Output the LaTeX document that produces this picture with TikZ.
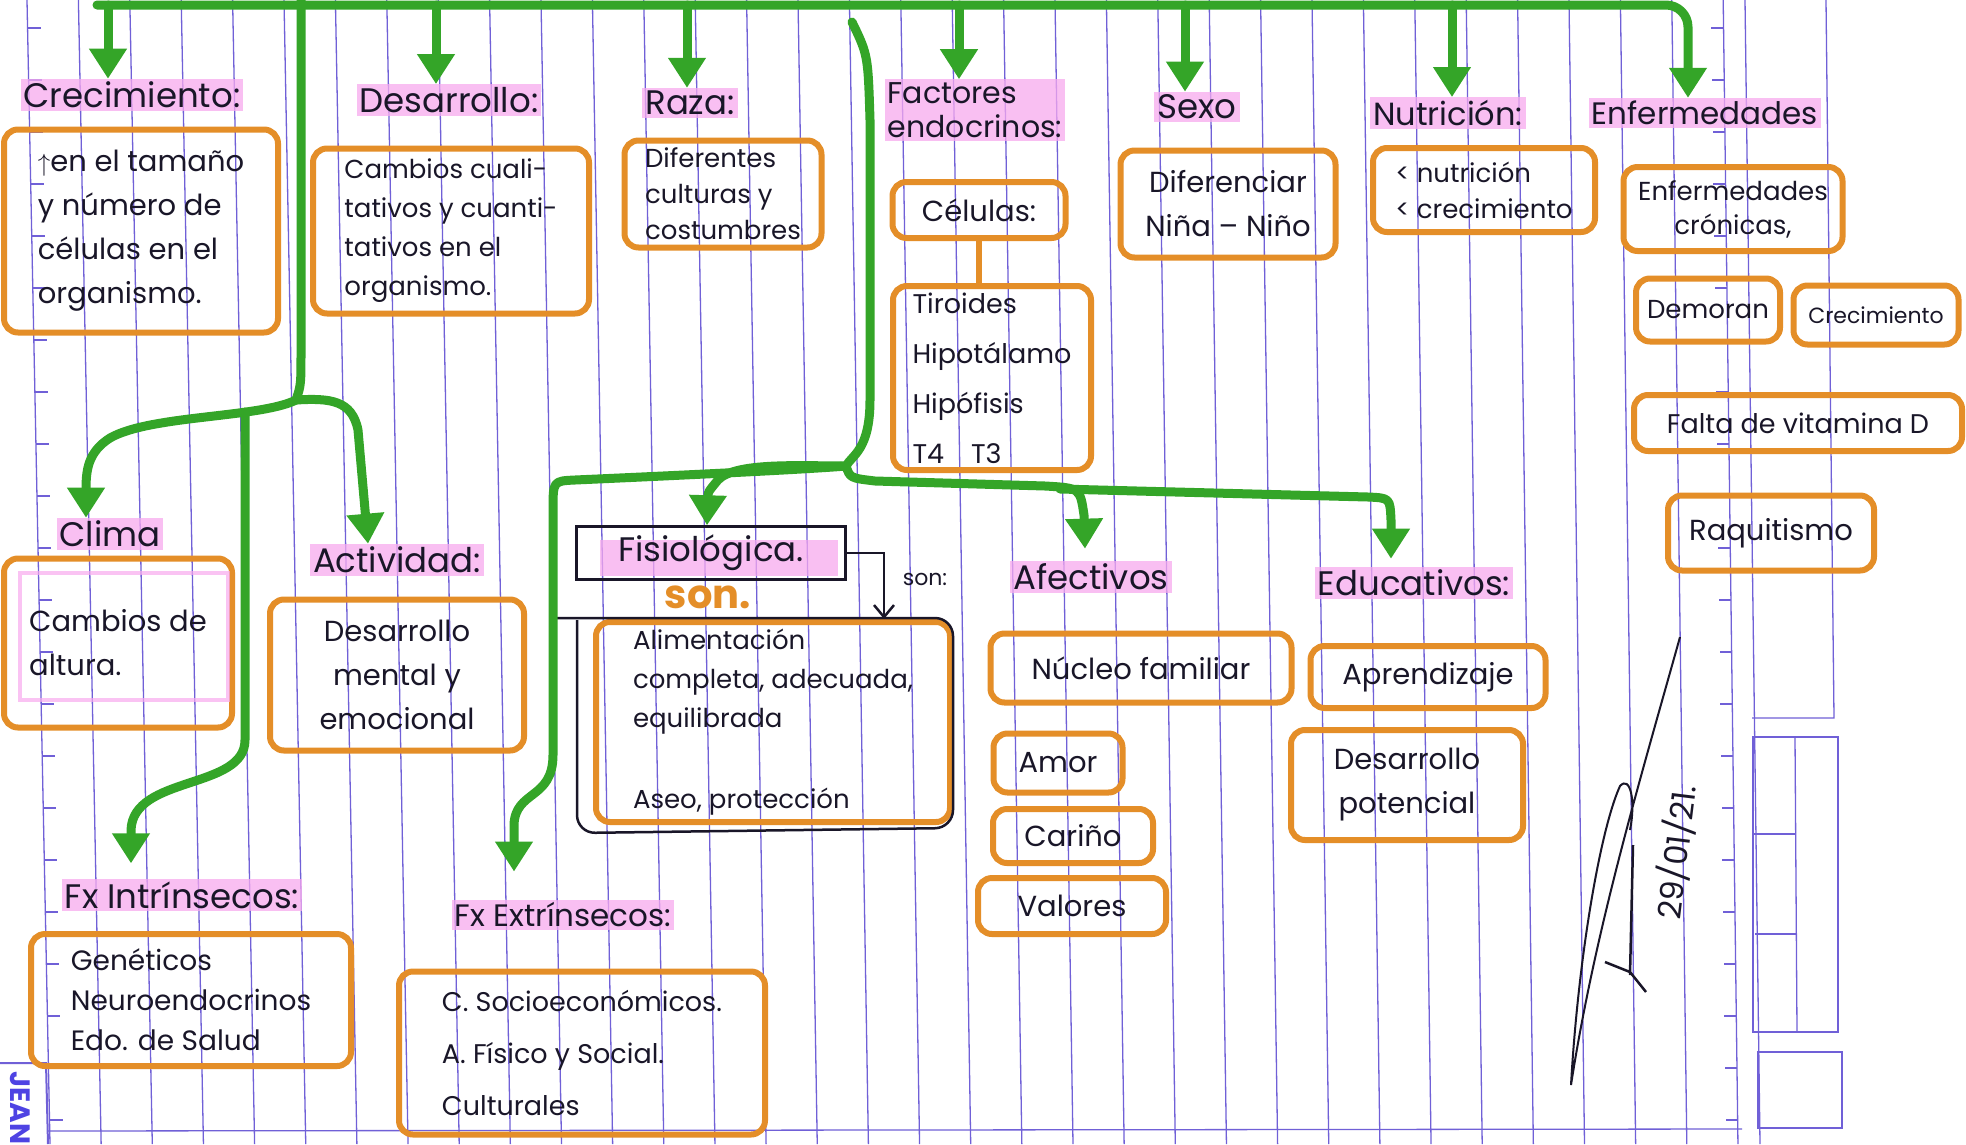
\documentclass[tikz,border=0pt]{standalone}
\usepackage{fontspec}
\setmainfont{Poppins}
\usetikzlibrary{arrows.meta,calc}
\definecolor{rule}{RGB}{112,96,215}
\definecolor{grn}{RGB}{52,165,40}
\definecolor{ora}{RGB}{228,142,40}
\definecolor{pnk}{RGB}{248,170,238}
\definecolor{ink}{RGB}{25,22,40}
\begin{document}
\begin{tikzpicture}[x=1pt,y=-1pt,
  rl/.style={draw=rule, line width=1.3pt},
  gline/.style={draw=grn, line width=9pt, line cap=round, line join=round},
  garrow/.style={gline, -{Triangle[width=36pt,length=30pt]}},
  obox/.style={draw=ora, line width=6pt, rounded corners=14pt, inner sep=4pt, text=ink, align=left},
  hdr/.style={fill=pnk, fill opacity=0.75, text opacity=1, text=ink, inner sep=3pt, font=\fontsize{34}{40}\selectfont, align=left},
  body/.style={font=\fontsize{29}{44}\selectfont},
  pen/.style={draw=ink, line width=2.5pt},
]
\useasboundingbox (0,0) rectangle (1966,1144);
\fill[white] (0,0) rectangle (1966,1144);

% ruled paper
\foreach \k in {0,...,33} {
  \pgfmathsetmacro\xa{27+51.4*\k}
  \pgfmathsetmacro\xb{\xa+23-0.25*\k}
  \draw[rl] (\xa,0) -- (\xb,1144);
}
\foreach \k in {0,...,21} {
  \pgfmathsetmacro\yy{28+52*\k}
  \pgfmathsetmacro\xl{27+0.0201*\yy}
  \pgfmathsetmacro\xr{1723+0.0131*\yy}
  \draw[rl] (\xl,\yy) -- ++(13,0);
  \draw[rl] (\xr,\yy) -- ++(-12,0);
}
\draw[rl] (48,1131) -- (1742,1129);
\draw[rl] (1745,0) -- (1760,1144);
\draw[rl] (1826,0) -- (1834,718) -- (1752,718);
\draw[rl] (1753,737) rectangle (1838,1032);
\draw[rl] (1795,737) -- (1797,1032);
\draw[rl] (1754,834) -- (1796,834) (1755,934) -- (1796,934);
\draw[rl] (1758,1052) rectangle (1842,1128);
\draw[rl, line width=2pt] (0,1063) -- (46,1063) -- (48,1144);
\node[rotate=-90, text=rule!70!blue, font=\fontsize{28}{28}\selectfont\bfseries, inner sep=0pt] (jean) at (20,1108) {JEAN};

% top headers
\node[hdr] (hcrec) at (132,95) {Crecimiento:};
\node[hdr] (hdes) at (449,100) {Desarrollo:};
\node[hdr] (hraza) at (690,103) {Raza:};
\node[hdr, font=\fontsize{30}{34}\selectfont] (hfac) at (975,110) {Factores\\endocrinos:};
\node[hdr] (hsexo) at (1197,107) {Sexo};
\node[hdr, font=\fontsize{32}{38}\selectfont] (hnut) at (1448,113) {Nutrición:};
\node[hdr, font=\fontsize{31}{38}\selectfont] (henf) at (1705,113) {Enfermedades};

% top boxes
\node[obox, body, minimum width=274, minimum height=203] (bcrec) at (141,231) {$\uparrow$en el tamaño\\y número de\\células en el\\organismo.};
\node[obox, font=\fontsize{26}{39}\selectfont, minimum width=276, minimum height=165] (bdes) at (451,231) {Cambios cuali-\\tativos y cuanti-\\tativos en el\\organismo.};
\node[obox, font=\fontsize{26}{36}\selectfont, minimum width=197, minimum height=107] (braza) at (723,194) {Diferentes\\culturas y\\costumbres};
\node[obox, body, minimum width=173, minimum height=56] (bcel) at (979,210) {Células:};
\node[obox, font=\fontsize{27}{50}\selectfont, minimum width=198, minimum height=184] (btir) at (992,378) {Tiroides\\Hipotálamo\\Hipófisis\\T4\quad T3};
\node[obox, body, minimum width=215, minimum height=107, align=center] (bsexo) at (1228,204) {Diferenciar\\Niña – Niño};
\node[obox, font=\fontsize{26}{36}\selectfont, minimum width=222, minimum height=84] (bnut) at (1484,190) {< nutrición\\< crecimiento};
\node[obox, font=\fontsize{26}{34}\selectfont, minimum width=219, minimum height=84, align=center] (benf) at (1733,209) {Enfermedades\\crónicas,};
\node[obox, font=\fontsize{26}{30}\selectfont, minimum width=144, minimum height=63] (bdem) at (1708,310) {Demoran};
\node[obox, font=\fontsize{22}{26}\selectfont, minimum width=165, minimum height=59] (bcrec2) at (1876,315) {Crecimiento};
\node[obox, font=\fontsize{27}{32}\selectfont, minimum width=328, minimum height=56] (bfal) at (1798,423) {Falta de vitamina D};
\node[obox, body, minimum width=206, minimum height=75] (braq) at (1771,533) {Raquitismo};
\draw[ora, line width=6pt] (bcel.south) -- (bcel.south |- btir.north);

% left group
\node[hdr] (hcli) at (110,534) {Clima};
\node[obox, body, minimum width=228, minimum height=169] (bcli) at (118,643) {Cambios de\\altura.};
\draw[pnk, line width=4pt, opacity=.7] (20,573) rectangle (228,700);
\node[hdr] (hact) at (397,560) {Actividad:};
\node[obox, body, minimum width=254, minimum height=151, align=center] (bact) at (397,675) {Desarrollo\\mental y\\emocional};

% fisiologica
\fill[pnk, opacity=.75] (600,540) rectangle (838,576);
\node[pen, minimum width=269, minimum height=53, text=ink, font=\fontsize{34}{40}\selectfont] (fis) at (711,553) {Fisiológica.};
\node[text=ora, font=\fontsize{40}{42}\selectfont\bfseries] (son1) at (708,597) {son.};
\node[text=ink, font=\fontsize{22}{24}\selectfont] (son2) at (925,579) {son:};
\node[obox, font=\fontsize{26}{39}\selectfont, minimum width=354, minimum height=200] (bali) at (773,722) {Alimentación\\completa, adecuada,\\equilibrada\\[42pt]Aseo, protección};
\draw[pen, rounded corners=18pt] (552,618) -- (953,618) -- (953,828) -- (577,833) -- (577,620);
\coordinate (sx) at (884,0);
\draw[pen, -{Straight Barb[length=12pt,width=20pt]}] (fis.east) -| (sx |- bali.north);

% afectivos / educativos
\node[hdr] (hafe) at (1091,577) {Afectivos};
\node[obox, body, minimum width=301, minimum height=69] (bnuc) at (1141,668) {Núcleo familiar};
\node[obox, body, minimum width=129, minimum height=59] (bamo) at (1058,763) {Amor};
\node[obox, body, minimum width=160, minimum height=54] (bcar) at (1073,836) {Cariño};
\node[obox, body, minimum width=188, minimum height=56] (bval) at (1072,906) {Valores};
\node[hdr] (hedu) at (1414,583) {Educativos:};
\node[obox, body, minimum width=235, minimum height=62] (bapr) at (1428,677) {Aprendizaje};
\node[obox, body, minimum width=232, minimum height=110, align=center] (bdpo) at (1407,785) {Desarrollo\\potencial};

% fx
\node[hdr] (hint) at (182,895) {Fx Intrínsecos:};
\node[obox, font=\fontsize{28}{40}\selectfont, minimum width=320, minimum height=132] (bint) at (191,1000) {Genéticos\\Neuroendocrinos\\Edo. de Salud};
\node[hdr, font=\fontsize{31}{36}\selectfont] (hext) at (563,915) {Fx Extrínsecos:};
\node[obox, font=\fontsize{27}{52}\selectfont, minimum width=366, minimum height=163] (bext) at (582,1053) {C. Socioeconómicos.\\A. Físico y Social.\\Culturales};

% signature and date
\draw[ink, line width=2pt] (1680,637) .. controls (1640,780) and (1595,930) .. (1571,1085) .. controls (1578,960) and (1600,830) .. (1620,786) .. controls (1630,775) and (1636,800) .. (1630,830);
\draw[ink, line width=2.5pt] (1633,845) -- (1630,975) (1605,962) -- (1630,972) -- (1646,992);
\node[rotate=83, text=ink, font=\fontsize{32}{34}\selectfont] (date) at (1676,852) {29/01/21.};

% green connectors: top
\coordinate (t1) at (108,5);
\coordinate (t2) at (436,5);
\coordinate (t3) at (687,5);
\coordinate (t4) at (959,5);
\coordinate (t5) at (1185,5);
\coordinate (t6) at (1452,5);
\coordinate (t7) at (1688,5);
\draw[garrow, rounded corners=22pt] (97,5) -- (t7) -- (t7 |- henf.north);
\draw[garrow] (t1) -- (t1 |- hcrec.north);
\draw[garrow] (t2) -- (t2 |- hdes.north);
\draw[garrow] (t3) -- (t3 |- hraza.north);
\draw[garrow] (t4) -- (t4 |- hfac.north);
\draw[garrow] (t5) -- (t5 |- hsexo.north);
\draw[garrow] (t6) -- (t6 |- hnut.north);

% left trunk
\coordinate (ltop) at (301,0);
\coordinate (j1) at (296,400);
\coordinate (j1b) at (245,412);
\draw[gline] (ltop) -- (301,350) .. controls (301,385) .. (j1);
\draw[garrow] (j1) .. controls (260,418) and (150,415) .. (110,438) .. controls (88,452) and (86,470) .. ([xshift=-24pt]hcli.north);
\draw[garrow] (j1) .. controls (330,398) and (352,400) .. (358,430) -- ([xshift=-29pt]hact.north);
\draw[garrow] (j1b) -- (245,740) .. controls (245,790) and (133,775) .. (131,830) -- ([xshift=-51pt,yshift=15pt]hint.north);

% middle trunk
\coordinate (mtop) at (852,22);
\coordinate (j2) at (846,466);
\coordinate (j3) at (1060,489);
\draw[gline] (mtop) .. controls (868,55) .. (870,120) -- (870,400) .. controls (870,450) and (852,455) .. (j2);
\draw[garrow] (j2) .. controls (800,466) and (735,462) .. (718,480) .. controls (708,492) .. ([xshift=-4pt]fis.north);
\draw[garrow] (j2) .. controls (800,470) and (620,478) .. (575,480) .. controls (553,481) .. (553,510) -- (553,755) .. controls (553,800) and (515,790) .. (514,825) -- ([xshift=-49pt,yshift=28pt]hext.north);
\draw[garrow] (j2) .. controls (850,478) .. (875,481) -- (1045,486) .. controls (1080,488) .. (1084,515) -- ([xshift=-6pt,yshift=12pt]hafe.north);
\draw[garrow] (j3) -- (1368,497) .. controls (1390,498) .. (1391,520) -- ([xshift=-23pt,yshift=8pt]hedu.north);
\end{tikzpicture}
\end{document}
